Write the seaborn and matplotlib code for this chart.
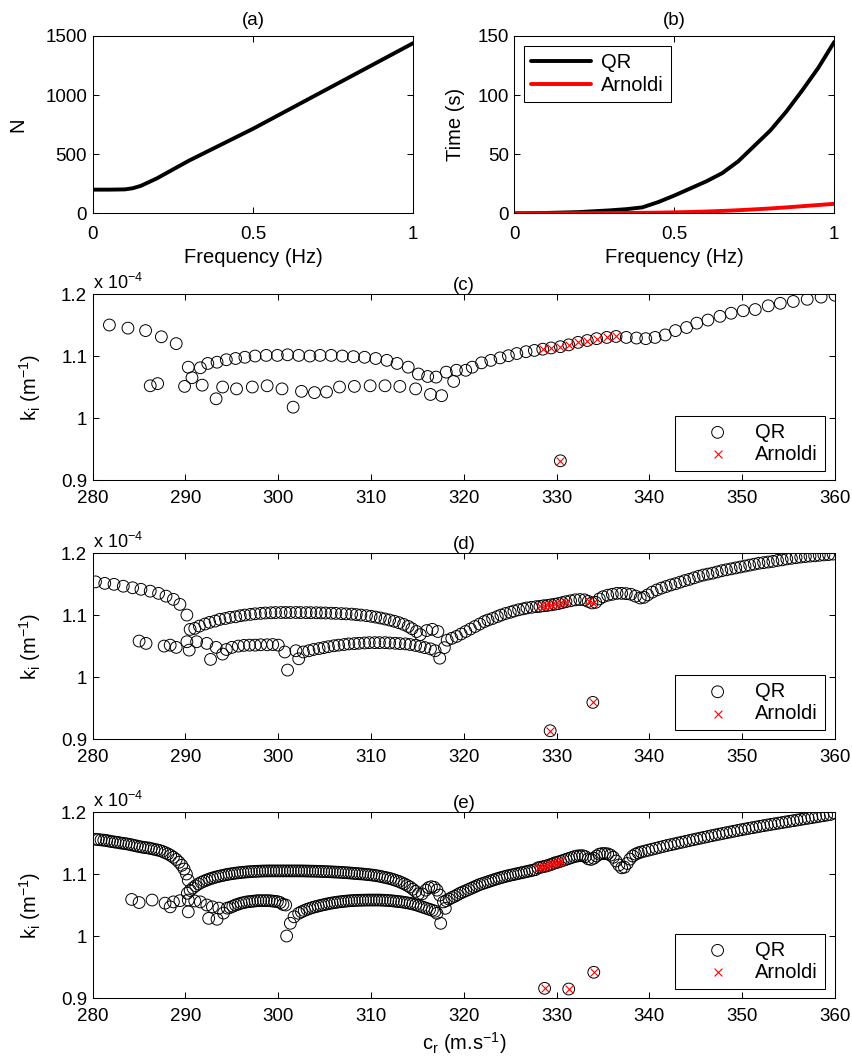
import matplotlib
matplotlib.use('Agg')
import matplotlib.pyplot as plt
import seaborn as sns

# ---- (a) matrix size vs frequency
freq_a = [0, 0.05, 0.1, 0.125, 0.15, 0.2, 0.3, 0.4, 0.5, 0.6, 0.7, 0.8, 0.9, 1.0]
n_a = [200, 200, 202, 212, 232, 295, 445, 580, 715, 860, 1005, 1150, 1295, 1440]

# ---- (b) computation time
freq_b = [0, 0.1, 0.2, 0.3, 0.35, 0.4, 0.45, 0.5, 0.55, 0.6, 0.65, 0.7, 0.75, 0.8, 0.85, 0.9, 0.95, 1.0]
time_qr = [0, 0.3, 1, 2.5, 3.5, 5, 9.5, 15, 21, 27, 34, 44, 57, 70, 86, 104, 123, 145]
time_arnoldi = [0, 0, 0.1, 0.2, 0.3, 0.4, 0.55, 0.8, 1.1, 1.5, 2.0, 2.6, 3.3, 4.1, 5.0, 6.0, 7.0, 8.0]

# ---- (c) k_i (x 1e-4) vs c_r, coarse grid
c_upper_x = [281.8, 283.8, 285.7, 287.4, 289.0,
             290.3, 291.6, 292.4, 293.4, 294.4, 295.4, 296.4, 297.5, 298.7, 299.9,
             301.0, 302.2, 303.4, 304.5, 305.7, 306.9, 308.1, 309.3, 310.5, 311.7,
             312.8, 314.0, 315.1, 316.1, 317.0, 318.1, 319.2, 320.2, 320.9, 321.9,
             322.9, 323.9, 324.8, 325.7, 326.7, 327.6, 328.5, 329.4, 330.4, 331.3,
             332.3, 333.3, 334.3, 335.4, 336.4, 337.5, 338.6, 339.6, 340.6, 341.7,
             342.8, 344.0, 345.1, 346.3, 347.6, 348.8, 350.1, 351.4, 352.8, 354.1,
             355.5, 357.0, 358.5, 360.0]
c_upper_y = [1.150, 1.145, 1.141, 1.131, 1.120,
             1.082, 1.081, 1.088, 1.090, 1.094, 1.096, 1.098, 1.100, 1.101, 1.101,
             1.102, 1.101, 1.100, 1.101, 1.101, 1.100, 1.099, 1.098, 1.096, 1.093,
             1.088, 1.082, 1.071, 1.067, 1.066, 1.074, 1.077, 1.077, 1.082, 1.089,
             1.093, 1.097, 1.1005, 1.104, 1.107, 1.109, 1.111, 1.113, 1.115, 1.118,
             1.122, 1.125, 1.128, 1.130, 1.1315, 1.130, 1.129, 1.128, 1.130, 1.134,
             1.141, 1.146, 1.153, 1.158, 1.164, 1.169, 1.173, 1.175, 1.181, 1.185,
             1.188, 1.1915, 1.195, 1.198]
c_lower_x = [286.2, 287.0, 289.9, 290.7, 291.8, 293.3, 294.0, 295.5, 297.2, 298.8,
             300.4, 301.6, 302.5, 303.9, 305.2, 306.6, 308.2, 309.9, 311.5, 313.1,
             314.8, 316.4, 317.6, 318.9, 330.4]
c_lower_y = [1.052, 1.0555, 1.051, 1.065, 1.053, 1.031, 1.050, 1.047, 1.050, 1.052,
             1.047, 1.0175, 1.043, 1.041, 1.042, 1.050, 1.051, 1.052, 1.052, 1.051,
             1.047, 1.038, 1.036, 1.059, 0.931]
c_arnoldi_x = [328.5, 329.4, 330.4, 331.3, 332.3, 333.3, 334.3, 335.4, 336.4, 330.4]
c_arnoldi_y = [1.111, 1.113, 1.115, 1.118, 1.122, 1.125, 1.128, 1.130, 1.1315, 0.931]

# ---- (d) medium grid
d_left_x = [280.3, 281.3, 282.3, 283.3, 284.3, 285.2, 286.2, 287.1, 287.9, 288.7, 289.4, 290.15]
d_left_y = [1.154, 1.1516, 1.150, 1.147, 1.1445, 1.142, 1.139, 1.1355, 1.131, 1.1258, 1.1177, 1.1005]
d_arch_x = [290.5, 291.0, 291.5, 292.1, 292.6, 293.2, 293.7, 294.3, 294.8, 295.4,
            295.9, 296.4, 297.0, 297.5, 298.1, 298.6, 299.2, 299.7, 300.3, 300.8,
            301.3, 301.9, 302.4, 303.0, 303.5, 304.1, 304.6, 305.1, 305.7, 306.2,
            306.8, 307.3, 307.9, 308.4, 308.9, 309.5, 310.0, 310.5, 311.0, 311.5,
            312.0, 312.5, 313.0, 313.5, 314.0, 314.4, 314.9, 315.3,
            316.0, 316.6, 317.2]
d_arch_y = [1.0774, 1.079, 1.0827, 1.086, 1.0887, 1.0908, 1.0935, 1.095, 1.0968, 1.0977,
            1.0994, 1.1005, 1.1016, 1.1025, 1.1032, 1.1038, 1.1042, 1.1045, 1.1046, 1.1046,
            1.1046, 1.1046, 1.1045, 1.1044, 1.1043, 1.1042, 1.104, 1.1038, 1.1035, 1.1032,
            1.1028, 1.1024, 1.102, 1.1013, 1.1005, 1.0995, 1.0985, 1.0972, 1.0958, 1.0942,
            1.0925, 1.0905, 1.0882, 1.0855, 1.0822, 1.0785, 1.074, 1.069,
            1.0755, 1.0775, 1.074]
d_right_x = [318.2, 318.7, 319.2, 319.7, 320.2, 320.7, 321.2, 321.7, 322.2, 322.6,
             323.1, 323.6, 324.0, 324.5, 325.0, 325.4, 325.9, 326.4, 326.8, 327.3,
             327.8, 328.2, 328.6, 329.0, 329.4, 329.8, 330.2, 330.6, 331.0, 331.5,
             332.0, 332.5, 333.0, 333.4, 333.8, 334.2, 334.6, 335.0, 335.5, 336.0,
             336.5, 337.0, 337.5, 338.0, 338.5, 339.0, 339.4, 339.8, 340.3, 340.8,
             341.3, 341.8, 342.3, 342.8, 343.3, 343.8, 344.3, 344.8, 345.3, 345.8,
             346.3, 346.8, 347.3, 347.8, 348.3, 348.8, 349.3, 349.8, 350.3, 350.8,
             351.3, 351.8, 352.3, 352.8, 353.3, 353.8, 354.3, 354.8, 355.3, 355.8,
             356.3, 356.8, 357.3, 357.8, 358.3, 358.8, 359.3, 359.8]
d_right_y = [1.060, 1.063, 1.066, 1.070, 1.074, 1.078, 1.082, 1.086, 1.090, 1.0925,
             1.095, 1.098, 1.1005, 1.103, 1.105, 1.107, 1.109, 1.1105, 1.112, 1.113,
             1.114, 1.1145, 1.1155, 1.116, 1.117, 1.118, 1.119, 1.1205, 1.122, 1.1235,
             1.125, 1.1255, 1.125, 1.1225, 1.120, 1.121, 1.1265, 1.130, 1.1325, 1.134,
             1.1355, 1.1355, 1.135, 1.134, 1.131, 1.128, 1.129, 1.133, 1.1375, 1.141,
             1.144, 1.1465, 1.149, 1.151, 1.1535, 1.156, 1.158, 1.1605, 1.163, 1.165,
             1.1665, 1.168, 1.170, 1.172, 1.1735, 1.175, 1.1765, 1.178, 1.1795, 1.181,
             1.1825, 1.184, 1.185, 1.186, 1.187, 1.1885, 1.1895, 1.191, 1.192, 1.193,
             1.194, 1.1948, 1.1955, 1.196, 1.1968, 1.1975, 1.198, 1.1988]
d_lower_x = [285.0, 285.75, 287.7, 288.35, 289.0, 290.15, 290.4, 291.2, 292.3, 292.7, 293.3, 294.0, 294.4,
             295.0, 295.7, 296.3, 296.9, 297.5, 298.1, 298.8, 299.4, 300.0, 300.7,
             301.0, 301.9, 302.2,
             302.7, 303.3, 303.8, 304.4, 304.9, 305.4, 306.0, 306.5, 307.1, 307.6,
             308.2, 308.7, 309.3, 309.8, 310.4, 310.9, 311.5, 312.0, 312.6, 313.1,
             313.7, 314.2, 314.8, 315.3, 315.8, 316.4, 316.9, 317.4, 317.9,
             329.3, 333.9]
d_lower_y = [1.0586, 1.0548, 1.0505, 1.052, 1.0484, 1.0575, 1.044, 1.0575, 1.0548, 1.029, 1.0484, 1.0376, 1.045,
             1.0484, 1.0505, 1.0516, 1.052, 1.052, 1.0526, 1.0526, 1.053, 1.052, 1.041,
             1.0118, 1.043, 1.030,
             1.041, 1.043, 1.045, 1.0465, 1.048, 1.0495, 1.051, 1.052, 1.053, 1.054,
             1.0545, 1.055, 1.0555, 1.056, 1.056, 1.056, 1.056, 1.0555, 1.055, 1.0545,
             1.054, 1.053, 1.0515, 1.050, 1.048, 1.046, 1.043, 1.031, 1.048,
             0.914, 0.9597]
d_arnoldi_x = [328.2, 328.6, 329.0, 329.4, 329.8, 330.2, 330.6, 331.0, 333.5, 333.9, 329.3, 333.9]
d_arnoldi_y = [1.1145, 1.1155, 1.116, 1.117, 1.118, 1.119, 1.1205, 1.122, 1.1225, 1.120, 0.914, 0.9597]

# ---- (e) fine grid
e_left_x = [280.3, 280.6, 280.9, 281.2, 281.5, 281.8, 282.1, 282.4, 282.7, 283.0,
            283.3, 283.6, 283.9, 284.2, 284.5, 284.8, 285.1, 285.4, 285.7, 286.0,
            286.3, 286.6, 286.9, 287.2, 287.5, 287.8, 288.1, 288.4, 288.7, 289.0,
            289.3, 289.6, 289.85, 290.1, 290.3]
e_left_y = [1.156, 1.1555, 1.155, 1.1545, 1.154, 1.153, 1.1522, 1.1515, 1.151, 1.150,
            1.1495, 1.1488, 1.148, 1.147, 1.146, 1.145, 1.144, 1.1432, 1.1425, 1.142,
            1.141, 1.140, 1.139, 1.138, 1.1365, 1.1345, 1.1325, 1.130, 1.127, 1.1235,
            1.119, 1.114, 1.108, 1.100, 1.090]
e_arch_x = [290.2, 290.5, 290.8, 291.1, 291.4, 291.7, 292.0, 292.3, 292.6, 292.9,
            293.2, 293.5, 293.8, 294.1, 294.4, 294.7, 295.0, 295.3, 295.6, 295.9,
            296.2, 296.5, 296.8, 297.1, 297.4, 297.7, 298.0, 298.3, 298.6, 298.9,
            299.2, 299.5, 299.8, 300.1, 300.4, 300.7, 301.0, 301.3, 301.6, 301.9,
            302.2, 302.5, 302.8, 303.1, 303.4, 303.7, 304.0, 304.3, 304.6, 304.9,
            305.2, 305.5, 305.8, 306.1, 306.4, 306.7, 307.0, 307.3, 307.6, 307.9,
            308.2, 308.5, 308.8, 309.1, 309.4, 309.7, 310.0, 310.3, 310.6, 310.9,
            311.2, 311.5, 311.8, 312.1, 312.4, 312.7, 313.0, 313.3, 313.6, 313.9,
            314.2, 314.5, 314.8, 315.1,
            315.5, 315.9, 316.2, 316.5, 316.8, 317.1, 317.4]
e_arch_y = [1.069, 1.0735, 1.0775, 1.081, 1.084, 1.0865, 1.0885, 1.0903, 1.092, 1.0935,
            1.0948, 1.096, 1.097, 1.098, 1.099, 1.0998, 1.1005, 1.1012, 1.1018, 1.1023,
            1.1028, 1.1032, 1.1036, 1.1039, 1.1042, 1.1044, 1.1046, 1.1048, 1.1049, 1.105,
            1.105, 1.105, 1.105, 1.105, 1.105, 1.105, 1.105, 1.105, 1.105, 1.105,
            1.105, 1.105, 1.1049, 1.1048, 1.1047, 1.1046, 1.1045, 1.1044, 1.1042, 1.104,
            1.1038, 1.1036, 1.1034, 1.1032, 1.103, 1.1027, 1.1024, 1.1021, 1.1018, 1.1014,
            1.101, 1.1007, 1.1003, 1.1, 1.0995, 1.099, 1.0985, 1.098, 1.0972, 1.0965,
            1.0955, 1.0945, 1.0935, 1.0925, 1.091, 1.0895, 1.088, 1.086, 1.084, 1.0815,
            1.079, 1.0755, 1.072, 1.068,
            1.068, 1.074, 1.078, 1.0795, 1.0785, 1.074, 1.066]
e_right_x = [317.8, 318.1, 318.4, 318.7, 319.0, 319.3, 319.6, 319.9, 320.2, 320.5,
             320.8, 321.1, 321.4, 321.7, 322.0, 322.3, 322.6, 322.9, 323.2, 323.5,
             323.8, 324.1, 324.4, 324.7, 325.0, 325.3, 325.6, 325.9, 326.2, 326.5,
             326.8, 327.1, 327.4, 327.7, 328.0, 328.3, 328.6, 328.9, 329.2, 329.5,
             329.8, 330.1, 330.4, 330.7, 331.0, 331.3, 331.6, 331.9, 332.2, 332.5,
             332.8, 333.1, 333.4, 333.7, 334.0, 334.3, 334.6, 334.9, 335.2, 335.5,
             335.8, 336.1, 336.4, 336.7, 337.0, 337.3, 337.6, 337.9, 338.2, 338.5,
             338.8, 339.1, 339.5, 339.9, 340.3, 340.7, 341.1, 341.5, 341.9, 342.3,
             342.7, 343.1, 343.5, 343.9, 344.3, 344.7, 345.1, 345.5, 345.9, 346.3,
             346.7, 347.1, 347.5, 347.9, 348.3, 348.7, 349.1, 349.5, 349.9, 350.3,
             350.7, 351.1, 351.5, 351.9, 352.3, 352.7, 353.1, 353.5, 353.9, 354.3,
             354.7, 355.1, 355.5, 355.9, 356.3, 356.7, 357.1, 357.5, 357.9, 358.3,
             358.7, 359.1, 359.5, 359.9]
e_right_y = [1.055, 1.057, 1.0595, 1.062, 1.064, 1.0665, 1.069, 1.071, 1.073, 1.075,
             1.077, 1.079, 1.081, 1.083, 1.0845, 1.086, 1.0875, 1.089, 1.0905, 1.092,
             1.0933, 1.0946, 1.0958, 1.097, 1.098, 1.099, 1.100, 1.101, 1.102, 1.103,
             1.104, 1.105, 1.106, 1.107, 1.110, 1.111, 1.112, 1.113, 1.1145, 1.116,
             1.118, 1.119, 1.1205, 1.122, 1.1235, 1.125, 1.1265, 1.128, 1.129, 1.1295,
             1.1295, 1.128, 1.1245, 1.1235, 1.1255, 1.129, 1.132, 1.133, 1.133, 1.1325,
             1.1305, 1.127, 1.121, 1.1145, 1.110, 1.111, 1.117, 1.124, 1.129, 1.132,
             1.134, 1.1355, 1.137, 1.1385, 1.140, 1.1415, 1.143, 1.1445, 1.146, 1.1473,
             1.1486, 1.150, 1.1513, 1.1526, 1.154, 1.1553, 1.1566, 1.1579, 1.1592, 1.1605,
             1.1618, 1.163, 1.1642, 1.1654, 1.1666, 1.1678, 1.169, 1.1702, 1.1714, 1.1725,
             1.1736, 1.1747, 1.1758, 1.1769, 1.178, 1.179, 1.180, 1.181, 1.182, 1.183,
             1.184, 1.185, 1.186, 1.187, 1.188, 1.189, 1.190, 1.191, 1.192, 1.193,
             1.194, 1.195, 1.196, 1.1985]
e_lower_x = [284.2, 285.0, 286.4, 287.8, 288.35, 288.7, 289.4, 290.3, 290.3, 291.0,
             291.6, 292.3, 292.5, 292.9, 293.4, 293.6, 294.1, 294.5,
             294.8, 295.1, 295.4, 295.7, 296.0, 296.3, 296.6, 296.9, 297.2, 297.5,
             297.8, 298.1, 298.4, 298.7, 299.0, 299.3, 299.6, 299.9, 300.2, 300.5, 300.8,
             300.9, 301.3, 301.7, 302.2,
             302.5, 302.8, 303.1, 303.4, 303.7, 304.0, 304.3, 304.6, 304.9, 305.2,
             305.5, 305.8, 306.1, 306.4, 306.7, 307.0, 307.3, 307.6, 307.9, 308.2,
             308.5, 308.8, 309.1, 309.4, 309.7, 310.0, 310.3, 310.6, 310.9, 311.2,
             311.5, 311.8, 312.1, 312.4, 312.7, 313.0, 313.3, 313.6, 313.9, 314.2,
             314.5, 314.8, 315.1, 315.4, 315.7, 316.0, 316.3, 316.6, 316.9,
             317.1, 317.5, 318.0,
             328.7, 331.3, 334.0]
e_lower_y = [1.059, 1.054, 1.058, 1.053, 1.047, 1.055, 1.057, 1.039, 1.058, 1.0565,
             1.055, 1.050, 1.0285, 1.047, 1.027, 1.045, 1.037, 1.045,
             1.046, 1.048, 1.050, 1.0515, 1.053, 1.054, 1.055, 1.0555, 1.056, 1.0565,
             1.057, 1.057, 1.057, 1.057, 1.057, 1.0565, 1.056, 1.0555, 1.054, 1.051, 1.050,
             1.000, 1.0205, 1.031, 1.0366,
             1.039, 1.041, 1.043, 1.0445, 1.046, 1.0472, 1.0484, 1.0495, 1.0505, 1.0515,
             1.0525, 1.0533, 1.054, 1.0547, 1.0553, 1.0558, 1.0563, 1.0567, 1.057, 1.0573,
             1.0575, 1.0577, 1.0578, 1.0579, 1.058, 1.058, 1.058, 1.058, 1.058, 1.0578,
             1.0576, 1.0573, 1.057, 1.0565, 1.056, 1.0555, 1.055, 1.0543, 1.0535, 1.0527,
             1.0517, 1.0505, 1.049, 1.0475, 1.046, 1.0445, 1.043, 1.0415, 1.040,
             1.0366, 1.0205, 1.0447,
             0.9156, 0.9145, 0.9415]
e_arnoldi_x = [328.0, 328.25, 328.5, 328.75, 329.0, 329.25, 329.5, 329.75, 330.0, 330.25, 330.5,
               328.7, 331.3, 334.0]
e_arnoldi_y = [1.110, 1.111, 1.112, 1.1125, 1.1135, 1.1145, 1.1155, 1.117, 1.118, 1.1195, 1.1205,
               0.9156, 0.9145, 0.9415]

BLACK = '#000000'
RED = '#ff0000'

sns.set_theme(style='ticks')
plt.rcParams['font.family'] = ['Liberation Sans', 'DejaVu Sans']
plt.rcParams['mathtext.default'] = 'regular'
plt.rcParams['font.size'] = 13
# seaborn greys the text; the original is plain black
plt.rcParams['text.color'] = BLACK
plt.rcParams['axes.labelcolor'] = BLACK
plt.rcParams['xtick.color'] = BLACK
plt.rcParams['ytick.color'] = BLACK

fig = plt.figure(figsize=(8.52, 10.58), dpi=100)


def style_axes(ax):
    for sp in ax.spines.values():
        sp.set_color(BLACK)
        sp.set_linewidth(0.75)
    ax.tick_params(direction='in', length=4, width=0.75, top=True, right=True,
                   bottom=True, left=True, labelsize=13.5, colors=BLACK)
    ax.tick_params(axis='x', pad=9)
    ax.tick_params(axis='y', pad=4)


def legend_box(leg):
    leg.get_frame().set_edgecolor(BLACK)
    leg.get_frame().set_linewidth(0.75)
    for t in leg.get_texts():
        t.set_color(BLACK)


# (a)
ax_a = fig.add_axes([0.1088, 0.7984, 0.3763, 0.1676])
sns.lineplot(x=freq_a, y=n_a, color=BLACK, lw=2.8, ax=ax_a)
ax_a.set_xlim(0, 1)
ax_a.set_ylim(0, 1500)
ax_a.set_xticks([0, 0.5, 1])
ax_a.set_xticklabels(['0', '0.5', '1'])
ax_a.set_yticks([0, 500, 1000, 1500])
ax_a.set_xlabel('Frequency (Hz)', fontsize=14.5, labelpad=4)
ax_a.set_ylabel('N', fontsize=14.5, labelpad=13)
ax_a.set_title('(a)', fontsize=13.5, pad=8)
style_axes(ax_a)

# (b)
ax_b = fig.add_axes([0.6036, 0.7984, 0.3756, 0.1676])
sns.lineplot(x=freq_b, y=time_qr, color=BLACK, lw=2.8, label='QR', ax=ax_b)
sns.lineplot(x=freq_b, y=time_arnoldi, color=RED, lw=2.8, label='Arnoldi', ax=ax_b)
ax_b.set_xlim(0, 1)
ax_b.set_ylim(0, 150)
ax_b.set_xticks([0, 0.5, 1])
ax_b.set_xticklabels(['0', '0.5', '1'])
ax_b.set_yticks([0, 50, 100, 150])
ax_b.set_xlabel('Frequency (Hz)', fontsize=14.5, labelpad=4)
ax_b.set_ylabel('Time (s)', fontsize=14.5, labelpad=9)
ax_b.set_title('(b)', fontsize=13.5, pad=8)
style_axes(ax_b)
leg = ax_b.legend(loc='upper left', bbox_to_anchor=(0.03, 0.945), borderaxespad=0,
                  fontsize=14.5, fancybox=False, framealpha=1, handlelength=3.0,
                  handletextpad=0.5, borderpad=0.35, labelspacing=0.2)
legend_box(leg)


def k_panel(rect, title, qr_x, qr_y, ar_x, ar_y, xlabel=None):
    ax = fig.add_axes(rect)
    sns.scatterplot(x=qr_x, y=qr_y, marker='o', s=72, color=BLACK, facecolor='none',
                    edgecolor=BLACK, linewidth=0.7, label='QR', ax=ax, zorder=2)
    sns.scatterplot(x=ar_x, y=ar_y, marker='x', s=32, color=RED, linewidth=0.8,
                    label='Arnoldi', ax=ax, zorder=3)
    ax.set_xlim(280, 360)
    ax.set_ylim(0.9, 1.2)
    ax.set_xticks(range(280, 361, 10))
    ax.set_yticks([0.9, 1.0, 1.1, 1.2])
    ax.set_yticklabels(['0.9', '1', '1.1', '1.2'])
    ax.set_ylabel('k$_i$ (m$^{-1}$)', fontsize=14.5, labelpad=13)
    if xlabel:
        ax.set_xlabel(xlabel, fontsize=14.5, labelpad=4)
    ax.set_title(title, fontsize=13.5, pad=3)
    ax.text(0.0, 1.006, 'x 10$^{-4}$', transform=ax.transAxes, ha='left', va='bottom',
            fontsize=13)
    style_axes(ax)
    ax.tick_params(axis='x', pad=7)
    lg = ax.legend(loc='lower right', bbox_to_anchor=(0.986, 0.05), borderaxespad=0,
                   fontsize=14.5, fancybox=False, framealpha=1, handlelength=3.5,
                   handletextpad=0.1, borderpad=0.35, labelspacing=0.15, scatterpoints=1)
    legend_box(lg)
    return ax


k_panel([0.1088, 0.5463, 0.8713, 0.1758], '(c)',
        c_upper_x + c_lower_x, c_upper_y + c_lower_y, c_arnoldi_x, c_arnoldi_y)
k_panel([0.1088, 0.3011, 0.8713, 0.1759], '(d)',
        d_left_x + d_arch_x + d_right_x + d_lower_x,
        d_left_y + d_arch_y + d_right_y + d_lower_y, d_arnoldi_x, d_arnoldi_y)
k_panel([0.1088, 0.0567, 0.8713, 0.1758], '(e)',
        e_left_x + e_arch_x + e_right_x + e_lower_x,
        e_left_y + e_arch_y + e_right_y + e_lower_y, e_arnoldi_x, e_arnoldi_y,
        xlabel='c$_r$ (m.s$^{-1}$)')

fig.savefig('out.png', dpi=100)
